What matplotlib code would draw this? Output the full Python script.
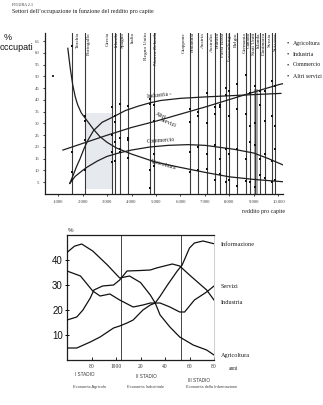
import matplotlib
matplotlib.use("Agg")
import matplotlib.pyplot as plt
import matplotlib.transforms as mtransforms

# ---------------- data: top chart ----------------
agr_x = [1400, 1500, 1600, 1700, 1800, 1950, 2200, 2450, 2700, 3000, 3400, 4000, 5000, 6000, 7000, 8000, 9000, 10200]
agr_y = [62, 53.5, 46.5, 41.5, 38, 34.5, 31, 27.5, 24.5, 22, 19.5, 17, 13.5, 11.3, 9.2, 7.3, 6.2, 5.2]

ind_x = [1480, 1600, 1750, 1900, 2050, 2200, 2450, 2800, 3250, 3750, 4250, 4750, 5200, 6000, 7000, 8000, 9000, 10100]
ind_y = [4.5, 7.5, 11.5, 15, 19, 22.5, 27, 30.5, 32.8, 35.5, 37.3, 38.8, 39.8, 40.7, 41.3, 41.8, 42.3, 42.8]

com_x = [1480, 1700, 2000, 2200, 2600, 3000, 3500, 4000, 4750, 5500, 6300, 7000, 7500, 8200, 9000, 9600, 10200]
com_y = [4.5, 7.5, 10, 11.5, 14, 16, 17.5, 18.7, 20, 20.7, 21, 20.7, 20, 19, 17.4, 15, 12.3]

alt_x = [1200, 2000, 3000, 4000, 5000, 6000, 7000, 8000, 9000, 10000, 10200]
alt_y = [18.7, 21.5, 25, 28.3, 31, 34, 37, 40.2, 43.4, 46.5, 47]

countries = ["Turchia", "Portogallo", "Grecia", "Irlanda", "Spagna", "Italia",
             "Regno Unito", "Nuova Zelanda", "Giappone", "Finlandia", "Austria",
             "Australia", "Francia", "Paesi Bassi", "Lussemburgo", "Belgio",
             "Germania", "Canada", "Stati Uniti", "Islanda", "Danimarca",
             "Svezia", "Svizzera"]
country_income = [1590, 2100, 3200, 3330, 3530, 3860, 4750, 4920, 6390, 6700, 7080,
                  7410, 7610, 7860, 7980, 8300, 8670, 8840, 9060, 9240, 9450, 9730, 9860]
c_agr = [63, 33, 37, 30.5, 38.5, 24, 2.5, 12, 9.5, 10, 10.5, 6, 8.5, 5, 6, 3.5, 5.5, 5, 3, 8, 7, 5, 6]
c_ind = [9.5, 31, 25, 33, 24, 37.5, 40.5, 38, 36, 35, 43, 34, 37, 45, 44, 47, 50.5, 29, 30, 44, 31, 33, 46]
c_com = [6, 10, 13.5, 14, 18, 15.5, 10, 17, 18, 20, 17, 21, 15, 19, 17, 19, 15, 22, 21, 15, 17, 14, 19]
c_alt = [18, 23, 18, 22, 19, 23, 38.5, 31, 30.5, 33, 30, 37, 38, 42, 33, 36, 34, 43, 46, 38, 44, 48, 29]

stray_x = [800]
stray_y = [50]

top_xticks = [1000, 2000, 3000, 4000, 5000, 6000, 7000, 8000, 9000, 10000]
top_xlabels = ["1.000", "2.000", "3.000", "4.000", "5.000", "6.000", "7.000", "8.000", "9.000", "10.000"]
top_yticks = [5, 10, 15, 20, 25, 30, 35, 40, 45, 50, 55, 60, 65]
legend_items = ["Agricoltura", "Industria", "Commercio", "Altri servizi"]

# ---------------- data: bottom chart ----------------
b_agr_x = [1860, 1866, 1872, 1881, 1893, 1903, 1911, 1920, 1928, 1932, 1936, 1944, 1952, 1963, 1974, 1980]
b_agr_y = [43, 45.5, 46.4, 43.6, 38, 32.8, 33.6, 31, 26, 22.8, 18, 13.2, 9.2, 6, 4, 2]

b_ser_x = [1860, 1871, 1881, 1887, 1895, 1903, 1914, 1922, 1928, 1936, 1944, 1952, 1956, 1964, 1974, 1980]
b_ser_y = [35.6, 33.6, 27.6, 25.6, 26.4, 24, 21.2, 22, 22.8, 22.8, 21.2, 19.2, 19.2, 24, 27.2, 29.6]

b_ind_x = [1860, 1868, 1873, 1879, 1882, 1889, 1898, 1903, 1909, 1920, 1928, 1933, 1946, 1952, 1960, 1974, 1980]
b_ind_y = [16, 17.2, 20, 24.8, 28, 29.6, 30, 32, 35.6, 35.8, 36, 36.8, 38.4, 37.6, 34, 28, 24]

b_inf_x = [1860, 1868, 1879, 1887, 1898, 1903, 1909, 1914, 1922, 1928, 1932, 1936, 1942, 1950, 1954, 1960, 1964, 1971, 1980]
b_inf_y = [4.8, 4.8, 7.2, 9.2, 12.8, 13.6, 14.8, 16, 20, 22, 22.8, 25.5, 30, 35.6, 38, 44.8, 46.8, 47.6, 46.5]

bottom_xticks = [1880, 1900, 1920, 1940, 1960, 1980]
bottom_xlabels = ["80", "1900", "20", "40", "60", "80"]
bottom_yticks = [10, 20, 30, 40]
stage_years = [1904, 1953]
stage_titles = ["I STADIO", "II STADIO", "III STADIO"]
stage_names = ["Economia Agricola", "Economia Industriale", "Economia della Informazione"]

# ---------------- figure ----------------
W, H = 323, 405
fig = plt.figure(figsize=(W / 100, H / 100), dpi=100)
fig.patch.set_facecolor("white")

def fx(px):
    return px / W

def fy(py):
    return 1 - py / H

SERIF = ["Liberation Serif", "DejaVu Serif"]
SANS = ["Liberation Sans", "DejaVu Sans"]
INK = "#1e1e1e"

# ---------------- top chart ----------------
ax = fig.add_axes([fx(45), fy(194), fx(283) - fx(45), fy(33) - fy(194)])
ax.set_xlim(469, 10184)
ax.set_ylim(0, 68.5)
for s in ["top", "right"]:
    ax.spines[s].set_visible(False)
for s in ["left", "bottom"]:
    ax.spines[s].set_color(INK)
    ax.spines[s].set_linewidth(0.9)

# shading
ax.axvspan(2100, 3200, ymin=0.03, ymax=0.5, color="#e6eaef", lw=0, zorder=0)
ax.axvspan(8980, 9180, ymin=0, ymax=0.65, color="#a8a8a8", lw=0, zorder=0.5)

# country lines
for xv in country_income:
    ax.axvline(xv, color="#3a3a3a", lw=0.8, zorder=1)

# country labels: horizontal shift of each label from its line, in pixels
label_shift_px = [5, 4, -4, 1.5, 2.5, 5, -4, 1.5, -6, -5, -4, -3, -2.5, -3, 1, -1,
                  -1.5, -1, -1.5, -1, -1, -2, 0.5]
trans = mtransforms.blended_transform_factory(ax.transData, ax.transAxes)
for name, xv, sh in zip(countries, country_income, label_shift_px):
    t = mtransforms.offset_copy(trans, fig=fig, x=sh * 0.72, y=0, units="points")
    ax.text(xv, 1.005, name, rotation=90, ha="center", va="top", fontsize=3.9,
            family=SERIF, color=INK, transform=t)

# curves
ax.plot(agr_x, agr_y, color=INK, lw=0.9, zorder=3)
ax.plot(ind_x, ind_y, color=INK, lw=0.9, zorder=3)
ax.plot(com_x, com_y, color=INK, lw=0.9, zorder=3)
ax.plot(alt_x, alt_y, color=INK, lw=0.9, zorder=3)

# country dots
for vals in (c_agr, c_ind, c_com, c_alt):
    ax.scatter(country_income, vals, s=2.8, marker="s", color="#111111", lw=0, zorder=4)
ax.scatter(stray_x, stray_y, s=2, marker="s", color="#333333", lw=0, zorder=4)

# curve labels
ax.text(4600, 40.6, "Industria -", fontsize=4.2, family=SERIF, color=INK, rotation=6, ha="left", va="bottom")
ax.text(4950, 31.5, "Altri", fontsize=4.2, family=SERIF, color=INK, rotation=-22, ha="left", va="bottom")
ax.text(5150, 28.0, "Servizi", fontsize=4.2, family=SERIF, color=INK, rotation=-22, ha="left", va="bottom")
ax.text(4600, 21.2, "Commercio", fontsize=4.2, family=SERIF, color=INK, rotation=4, ha="left", va="bottom")
ax.text(4700, 10.0, "Agricoltura", fontsize=4.2, family=SERIF, color=INK, rotation=-16, ha="left", va="bottom")

ax.set_xticks(top_xticks)
ax.set_xticklabels(top_xlabels, fontsize=3.4, family=SERIF, color="#444444")
ax.set_yticks(top_yticks)
ax.set_yticklabels([str(v) for v in top_yticks], fontsize=3.4, family=SERIF, color="#444444")
ax.tick_params(axis="both", length=1.5, width=0.6, color=INK, pad=2.5)

# legend (text list)
for i, lab in enumerate(legend_items):
    yy = [43, 54, 65, 76][i]
    fig.text(fx(287), fy(yy), "\u2022", fontsize=4.5, family=SERIF, color=INK, va="center")
    fig.text(fx(293), fy(yy), lab, fontsize=4.2, family=SERIF, color=INK, va="center")

# titles
fig.text(fx(12), fy(5), "FIGURA 2.1", fontsize=3.0, family=SERIF, color="#333333", va="center")
fig.text(fx(12), fy(11.5), "Settori dell\u2019occupazione in funzione del reddito pro capite",
         fontsize=4.3, family=SERIF, color=INK, va="center")
fig.text(fx(4), fy(38), "%", fontsize=6.5, family=SANS, color="#111111", va="center")
fig.text(fx(0), fy(47), "occupati", fontsize=6.5, family=SANS, color="#111111", va="center")
fig.text(fx(242), fy(212), "reddito pro capite", fontsize=4.3, family=SERIF, color=INK, va="center")

# ---------------- bottom chart ----------------
bx = fig.add_axes([fx(67), fy(360), fx(214) - fx(67), fy(235) - fy(360)])
bx.set_xlim(1860, 1980)
bx.set_ylim(0, 50)
for s in ["left", "bottom", "top"]:
    bx.spines[s].set_color(INK)
    bx.spines[s].set_linewidth(0.9)
bx.spines["right"].set_color("#bbbbbb")
bx.spines["right"].set_linewidth(0.5)

for yr in stage_years:
    bx.axvline(yr, color="#444444", lw=0.7, zorder=1)

bx.plot(b_agr_x, b_agr_y, color="#111111", lw=0.9, zorder=3)
bx.plot(b_ser_x, b_ser_y, color="#111111", lw=0.9, zorder=3)
bx.plot(b_ind_x, b_ind_y, color="#111111", lw=0.9, zorder=3)
bx.plot(b_inf_x, b_inf_y, color="#111111", lw=0.9, zorder=3)

bx.set_xticks(bottom_xticks)
bx.set_xticklabels(bottom_xlabels, fontsize=4.0, family=SERIF, color="#333333")
bx.set_yticks(bottom_yticks)
bx.set_yticklabels([str(v) for v in bottom_yticks], fontsize=7, family=SANS, color="#111111")
bx.tick_params(axis="x", direction="in", length=2, width=0.6, pad=3)
bx.tick_params(axis="y", direction="inout", length=3, width=0.7, pad=1.5)

fig.text(fx(68), fy(230), "%", fontsize=4.5, family=SANS, color="#333333", va="center")
fig.text(fx(229), fy(368), "anni", fontsize=4.0, family=SERIF, color="#333333", va="center")

fig.text(fx(221), fy(244), "Informazione", fontsize=4.5, family=SERIF, color=INK, va="center")
fig.text(fx(221), fy(287), "Servizi", fontsize=4.5, family=SERIF, color=INK, va="center")
fig.text(fx(221), fy(303), "Industria", fontsize=4.5, family=SERIF, color=INK, va="center")
fig.text(fx(221), fy(356), "Agricoltura", fontsize=4.5, family=SERIF, color=INK, va="center")

for cx, cy, lab in zip([85, 146, 199], [374, 377, 380], stage_titles):
    fig.text(fx(cx), fy(cy), lab, fontsize=3.3, family=SANS, color="#333333", ha="center", va="center")
for cx, lab in zip([89, 146, 212], stage_names):
    fig.text(fx(cx), fy(387), lab, fontsize=2.9, family=SANS, color="#444444", ha="center", va="center")

fig.savefig("out.png", dpi=100, facecolor="white")
